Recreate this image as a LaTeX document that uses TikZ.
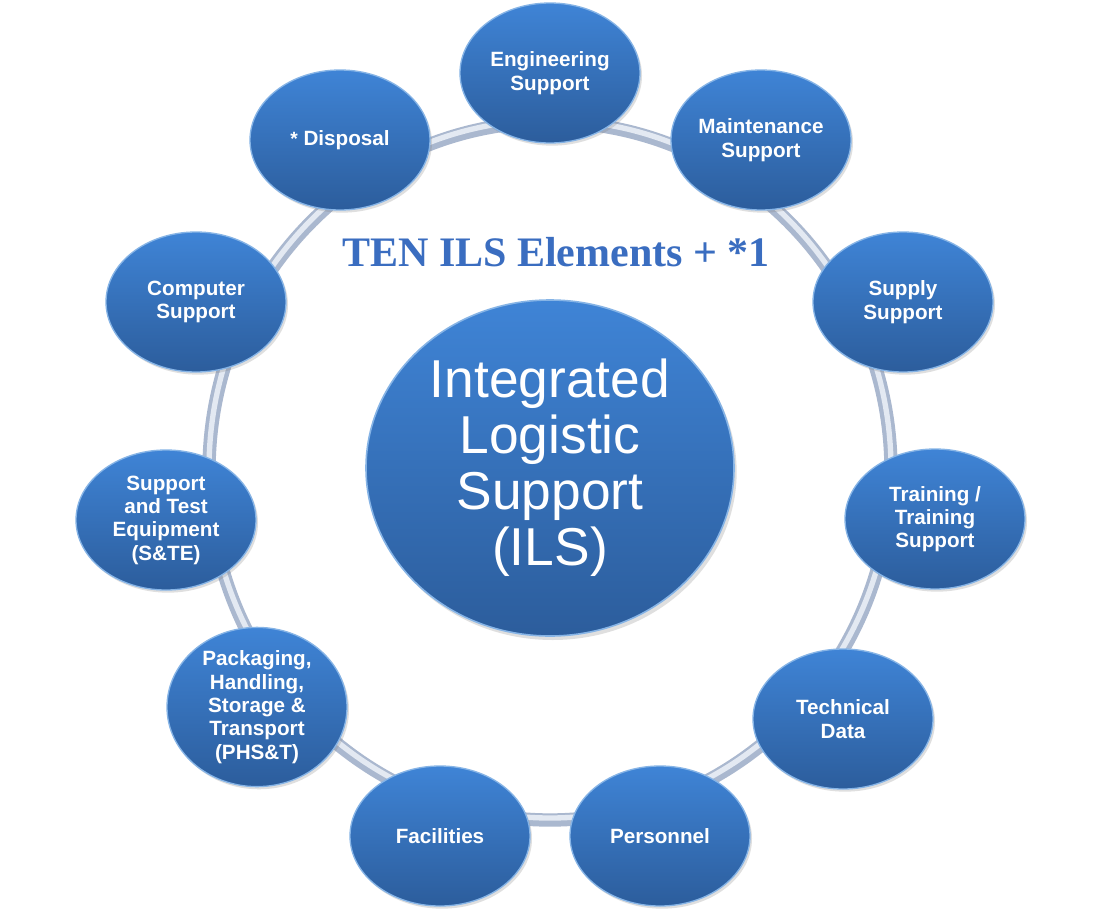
\documentclass[tikz,border=0pt]{standalone}
\usepackage{fontspec}
\setmainfont{Liberation Sans}
\newfontfamily\titlefont{Liberation Serif}
\usepackage{tikz}
\usetikzlibrary{shapes.geometric,shadows}
\definecolor{BallTop}{HTML}{3F84D6}
\definecolor{BallBottom}{HTML}{2C5D9C}
\definecolor{BallRim}{HTML}{86B4E6}
\definecolor{RingOuter}{HTML}{AAB8CF}
\definecolor{RingInner}{HTML}{E3E9F2}
\definecolor{TitleBlue}{HTML}{3A6DC0}

\begin{document}
\begin{tikzpicture}[x=0.75pt,y=-0.75pt,
    element/.style={ellipse,draw=BallRim,line width=1pt,top color=BallTop,bottom color=BallBottom,
      minimum width=135pt,minimum height=105pt,inner sep=0pt,align=center,text=white,
      font=\bfseries\fontsize{15.5}{17.5}\selectfont,
      drop shadow={opacity=0.25,shadow xshift=1.5pt,shadow yshift=-2pt}},
    hub/.style={ellipse,draw=BallRim,line width=1.2pt,top color=BallTop,bottom color=BallBottom,
      minimum width=276pt,minimum height=252pt,inner sep=0pt,align=center,text=white,
      font=\fontsize{40}{42}\selectfont,
      drop shadow={opacity=0.25,shadow xshift=2pt,shadow yshift=-3pt}}]
    \useasboundingbox[fill=white] (0,0) rectangle (1100,921);
    % ring behind the elements
    \draw[RingOuter,line width=10pt] (550,471) ellipse[x radius=341,y radius=349];
    \draw[RingInner,line width=4pt] (550,469) ellipse[x radius=341,y radius=349];
    \node[hub] (ils) at (550,468) {Integrated\\Logistic\\Support\\(ILS)};
    \node[font=\titlefont\bfseries\fontsize{31.5}{34}\selectfont,text=TitleBlue] (title) at (556,252) {TEN ILS Elements + *1};
    \node[element] (engineering) at (550,73) {Engineering\\Support};
    \node[element] (maintenance) at (761,140) {Maintenance\\Support};
    \node[element] (supply) at (903,302) {Supply\\Support};
    \node[element] (training) at (935,519) {Training /\\Training\\Support};
    \node[element] (techdata) at (843,719) {Technical\\Data};
    \node[element] (personnel) at (660,836) {Personnel};
    \node[element] (facilities) at (440,836) {Facilities};
    \node[element] (phst) at (257,707) {Packaging,\\Handling,\\Storage \&\\Transport\\(PHS\&T)};
    \node[element] (ste) at (166,520) {Support\\and Test\\Equipment\\(S\&TE)};
    \node[element] (computer) at (196,302) {Computer\\Support};
    \node[element] (disposal) at (340,140) {{\Large*} Disposal};
\end{tikzpicture}
\end{document}
